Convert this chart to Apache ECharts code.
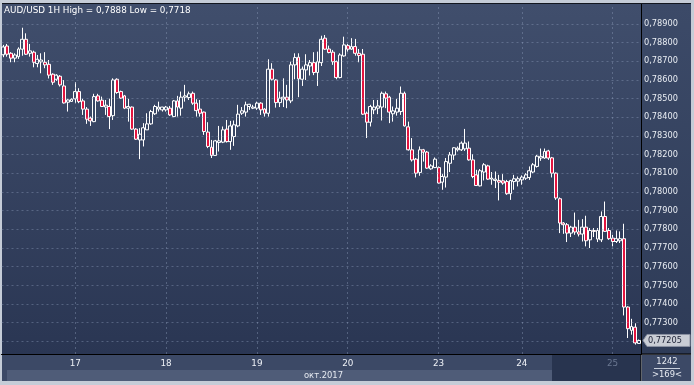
<!DOCTYPE html>
<html><head><meta charset="utf-8">
<script src="https://cdn.jsdelivr.net/npm/echarts@6/dist/echarts.min.js"></script>
<style>html,body{margin:0;padding:0;background:#c5ccd7;overflow:hidden}#c{width:694px;height:385px}</style>
</head><body><div id="c"></div>
<script>
// Trading sessions: [day of Oct 2017, first hour, last hour]
const sessions = [['16',5,23],['17',0,23],['18',0,23],['19',0,23],['20',0,23],['23',2,23],['24',0,23],['25',0,7]];

const opens = [
0.78735,0.78782,0.78743,0.78717,0.78725,0.78765,0.78818,0.78743,0.78749,0.78688,
0.78697,0.78695,0.78684,0.78631,0.78604,0.78620,0.78568,0.78481,0.78485,0.78499,
0.78538,0.78488,0.78444,0.78396,0.78377,0.78515,0.78492,0.78455,0.78458,0.78409,
0.78604,0.78538,0.78515,0.78449,0.78455,0.78337,0.78279,0.78279,0.78333,0.78365,
0.78419,0.78444,0.78440,0.78440,0.78449,0.78404,0.78488,0.78449,0.78508,0.78506,
0.78529,0.78476,0.78444,0.78428,0.78321,0.78240,0.78196,0.78265,0.78267,0.78337,
0.78270,0.78297,0.78354,0.78422,0.78428,0.78458,0.78449,0.78449,0.78476,0.78444,
0.78422,0.78658,0.78600,0.78479,0.78499,0.78508,0.78488,0.78681,0.78722,0.78604,
0.78654,0.78675,0.78693,0.78640,0.78693,0.78824,0.78766,0.78749,0.78698,0.78613,
0.78729,0.78784,0.78765,0.78779,0.78743,0.78738,0.78422,0.78374,0.78440,0.78449,
0.78455,0.78526,0.78508,0.78419,0.78428,0.78431,0.78529,0.78349,0.78226,0.78176,
0.78105,0.78226,0.78214,0.78124,0.78131,0.78131,0.78053,0.78080,0.78154,0.78198,
0.78226,0.78226,0.78231,0.78235,0.78172,0.78092,0.78033,0.78107,0.78140,0.78069,
0.78062,0.78062,0.78060,0.78056,0.77991,0.78056,0.78058,0.78065,0.78074,0.78078,
0.78107,0.78137,0.78182,0.78182,0.78220,0.78183,0.78101,0.77964,0.77834,0.77825,
0.77780,0.77812,0.77786,0.77775,0.77812,0.77744,0.77794,0.77748,0.77744,0.77869,
0.77794,0.77753,0.77735,0.77739,0.77750,0.77384,0.77259,0.77276,0.77189];

const closes = [
0.78777,0.78738,0.78717,0.78734,0.78766,0.78818,0.78738,0.78756,0.78695,0.78711,
0.78707,0.78681,0.78626,0.78588,0.78626,0.78574,0.78477,0.78493,0.78497,0.78538,
0.78484,0.78444,0.78390,0.78381,0.78511,0.78488,0.78458,0.78465,0.78404,0.78600,
0.78533,0.78503,0.78449,0.78458,0.78337,0.78283,0.78310,0.78344,0.78365,0.78431,
0.78458,0.78455,0.78455,0.78455,0.78413,0.78488,0.78455,0.78508,0.78515,0.78526,
0.78476,0.78436,0.78422,0.78324,0.78244,0.78196,0.78274,0.78274,0.78333,0.78270,
0.78354,0.78360,0.78417,0.78435,0.78467,0.78470,0.78455,0.78476,0.78440,0.78422,
0.78658,0.78604,0.78479,0.78503,0.78508,0.78493,0.78681,0.78720,0.78606,0.78658,
0.78681,0.78693,0.78640,0.78698,0.78818,0.78765,0.78747,0.78698,0.78613,0.78734,
0.78788,0.78765,0.78779,0.78743,0.78731,0.78417,0.78374,0.78458,0.78455,0.78461,
0.78529,0.78503,0.78428,0.78435,0.78449,0.78529,0.78354,0.78226,0.78172,0.78101,
0.78226,0.78214,0.78128,0.78140,0.78176,0.78048,0.78083,0.78163,0.78199,0.78237,
0.78235,0.78262,0.78262,0.78172,0.78083,0.78035,0.78114,0.78146,0.78069,0.78075,
0.78069,0.78053,0.78048,0.77991,0.78062,0.78071,0.78071,0.78080,0.78092,0.78114,
0.78146,0.78192,0.78191,0.78217,0.78182,0.78101,0.77968,0.77834,0.77825,0.77780,
0.77812,0.77786,0.77775,0.77812,0.77739,0.77794,0.77789,0.77794,0.77869,0.77789,
0.77750,0.77735,0.77750,0.77750,0.77384,0.77268,0.77280,0.77192,0.77205];

const lows = [
0.78722,0.78725,0.78695,0.78695,0.78713,0.78730,0.78734,0.78725,0.78668,0.78668,
0.78636,0.78663,0.78608,0.78574,0.78595,0.78565,0.78474,0.78431,0.78484,0.78476,
0.78476,0.78413,0.78365,0.78354,0.78374,0.78484,0.78455,0.78413,0.78337,0.78386,
0.78526,0.78499,0.78444,0.78377,0.78333,0.78279,0.78176,0.78244,0.78333,0.78360,
0.78413,0.78431,0.78431,0.78431,0.78408,0.78401,0.78404,0.78409,0.78484,0.78493,
0.78467,0.78404,0.78404,0.78306,0.78235,0.78182,0.78196,0.78217,0.78262,0.78265,
0.78226,0.78247,0.78347,0.78413,0.78404,0.78440,0.78444,0.78440,0.78413,0.78404,
0.78404,0.78597,0.78452,0.78455,0.78455,0.78449,0.78476,0.78604,0.78508,0.78568,
0.78600,0.78624,0.78626,0.78568,0.78675,0.78761,0.78743,0.78681,0.78604,0.78609,
0.78725,0.78752,0.78761,0.78730,0.78695,0.78413,0.78289,0.78351,0.78417,0.78417,
0.78383,0.78449,0.78369,0.78377,0.78409,0.78413,0.78351,0.78222,0.78163,0.78078,
0.78087,0.78163,0.78124,0.78119,0.78128,0.78043,0.78012,0.78024,0.78107,0.78172,
0.78217,0.78220,0.78220,0.78168,0.78074,0.78032,0.78030,0.78062,0.78065,0.78039,
0.78021,0.77955,0.78039,0.77985,0.77958,0.78012,0.78030,0.78039,0.78065,0.78065,
0.78101,0.78131,0.78167,0.78178,0.78172,0.78078,0.77958,0.77780,0.77776,0.77732,
0.77759,0.77771,0.77762,0.77735,0.77709,0.77700,0.77759,0.77732,0.77732,0.77786,
0.77744,0.77709,0.77727,0.77727,0.77339,0.77218,0.77236,0.77183,0.77187];

const highs = [
0.78788,0.78793,0.78749,0.78743,0.78775,0.78880,0.78850,0.78793,0.78757,0.78734,
0.78743,0.78749,0.78707,0.78636,0.78631,0.78626,0.78600,0.78497,0.78502,0.78588,
0.78556,0.78499,0.78455,0.78404,0.78526,0.78526,0.78511,0.78493,0.78500,0.78609,
0.78609,0.78543,0.78520,0.78499,0.78458,0.78342,0.78342,0.78369,0.78422,0.78440,
0.78467,0.78484,0.78456,0.78461,0.78461,0.78493,0.78515,0.78538,0.78574,0.78538,
0.78538,0.78497,0.78493,0.78431,0.78374,0.78279,0.78279,0.78354,0.78351,0.78386,
0.78381,0.78383,0.78467,0.78455,0.78484,0.78472,0.78467,0.78484,0.78481,0.78449,
0.78711,0.78690,0.78604,0.78538,0.78609,0.78574,0.78698,0.78743,0.78743,0.78672,
0.78738,0.78707,0.78749,0.78752,0.78837,0.78841,0.78784,0.78761,0.78704,0.78743,
0.78832,0.78793,0.78824,0.78820,0.78766,0.78766,0.78431,0.78467,0.78493,0.78493,
0.78538,0.78538,0.78515,0.78458,0.78499,0.78565,0.78538,0.78377,0.78289,0.78182,
0.78244,0.78231,0.78220,0.78149,0.78185,0.78137,0.78096,0.78182,0.78214,0.78240,
0.78244,0.78271,0.78338,0.78271,0.78203,0.78119,0.78123,0.78155,0.78146,0.78107,
0.78110,0.78092,0.78096,0.78065,0.78065,0.78092,0.78083,0.78089,0.78101,0.78137,
0.78155,0.78199,0.78233,0.78233,0.78226,0.78188,0.78105,0.77971,0.77839,0.77834,
0.77819,0.77890,0.77851,0.77855,0.77873,0.77807,0.77807,0.77807,0.77896,0.77949,
0.77807,0.77771,0.77794,0.77789,0.77830,0.77388,0.77321,0.77297,0.77210];

const yGridTicks = [0.772,0.773,0.774,0.775,0.776,0.777,0.778,0.779,0.780,0.781,0.782,0.783,0.784,0.785,0.786,0.787,0.788,0.789];
const yLabelTicks = [0.773,0.774,0.775,0.776,0.777,0.778,0.779,0.780,0.781,0.782,0.783,0.784,0.785,0.786,0.787,0.788,0.789];
const titleText = 'AUD/USD 1H High = 0,7888 Low = 0,7718';
const monthText = 'окт.2017';
const infoTop = '1242';
const infoBottom = '>169<';
const dimmedDay = '25';

const categories = [];
sessions.forEach(([d, h0, h1]) => {
  for (let h = h0; h <= h1; h++) categories.push(d + ' ' + String(h).padStart(2, '0') + ':00');
});
const dayOf = c => c.split(' ')[0];
const dayStarts = categories.filter((c, i) => i > 0 && dayOf(c) !== dayOf(categories[i - 1]));
const candleData = opens.map((o, i) => [o, closes[i], lows[i], highs[i]]);
const fmt = v => v.toFixed(5).replace('.', ',');

const FONT = 'DejaVu Sans';
const chart = echarts.init(document.getElementById('c'), null, {renderer: 'canvas'});

const bgEls = [
  {id:'plotBg', type:'rect', z:-10, silent:true, shape:{x:2,y:4,width:639,height:350},
   style:{fill:new echarts.graphic.LinearGradient(0,0,0,1,[{offset:0,color:'#404e6c'},{offset:1,color:'#2a3653'}])}},
  {id:'rightBg', type:'rect', z:-10, silent:true, shape:{x:642,y:4,width:49,height:350},
   style:{fill:new echarts.graphic.LinearGradient(0,0,0,1,[{offset:0,color:'#3c4a68'},{offset:1,color:'#2e3b57'}])}},
  {id:'row1', type:'rect', z:-10, silent:true, shape:{x:2,y:355,width:639,height:26}, style:{fill:'#3c4966'}},
  {id:'row2', type:'rect', z:-10, silent:true, shape:{x:7,y:370,width:545,height:11}, style:{fill:'#4f5c78'}},
  {id:'dark', type:'rect', z:-10, silent:true, shape:{x:552,y:355,width:89,height:26}, style:{fill:'#28344f'}},
  {id:'brBox', type:'rect', z:-10, silent:true, shape:{x:642,y:355,width:49,height:26}, style:{fill:'#3c4966'}},
  {id:'topLine', type:'rect', z:5, silent:true, shape:{x:2,y:3,width:689,height:1}, style:{fill:'#12161f'}},
  {id:'hLine', type:'rect', z:5, silent:true, shape:{x:641,y:353.5,width:50,height:1.2}, style:{fill:'#000'}},
  {id:'vLine', type:'rect', z:5, silent:true, shape:{x:640.5,y:354,width:1,height:27}, style:{fill:'#000'}},
  {id:'month', type:'text', z:5, silent:true, x:343, y:376,
   style:{text:monthText, fill:'#e6eaf1', fontSize:8.4, fontFamily:FONT, textAlign:'right', textVerticalAlign:'middle'}},
  {id:'info1', type:'text', z:5, silent:true, x:667, y:362,
   style:{text:infoTop, fill:'#e6eaf1', fontSize:8.4, fontFamily:FONT, textAlign:'center', textVerticalAlign:'middle'}},
  {id:'infoLine', type:'rect', z:5, silent:true, shape:{x:654,y:368,width:26,height:1}, style:{fill:'#c9d0dc'}},
  {id:'info2', type:'text', z:5, silent:true, x:667, y:375,
   style:{text:infoBottom, fill:'#e6eaf1', fontSize:8.4, fontFamily:FONT, textAlign:'center', textVerticalAlign:'middle'}}
];

const option = {
  animation: false,
  backgroundColor: '#c5ccd7',
  title: {
    text: titleText, left: 4, top: 6, padding: 0,
    textStyle: {color:'#ffffff', fontSize:8.8, fontFamily:FONT, fontWeight:'normal'}
  },
  grid: {left:1.5, top:4, width:639.5, height:350, containLabel:false},
  xAxis: {
    type:'category', data:categories, boundaryGap:true,
    axisLine:{show:true, lineStyle:{color:'#000000', width:1.2}},
    axisTick:{show:false}, splitLine:{show:false},
    axisLabel:{
      interval:(i, v) => dayStarts.includes(v),
      formatter: v => dayOf(v),
      color: v => dayOf(v) === dimmedDay ? '#6a7791' : '#eef1f6',
      fontSize:8.8, fontFamily:FONT, margin:5
    }
  },
  yAxis: {
    type:'value', position:'right', min:0.771325, max:0.79007,
    axisLine:{show:true, lineStyle:{color:'#000000', width:1}},
    axisTick:{show:false}, splitLine:{show:false},
    axisLabel:{customValues:yLabelTicks, formatter:fmt, color:'#e9edf3', fontSize:8.2, fontFamily:FONT, margin:3}
  },
  series: [
    {
      type:'line', data:[], silent:true, z:1, animation:false,
      markLine:{
        symbol:'none', silent:true, animation:false, precision:6, label:{show:false},
        lineStyle:{type:[2,3], color:'rgba(150,165,195,0.38)', width:1},
        data:[...yGridTicks.map(v => ({yAxis:v})), ...dayStarts.map(c => ({xAxis:c}))]
      }
    },
    {
      type:'candlestick', data:candleData, barWidth:3.4, z:3,
      itemStyle:{color:'rgba(0,0,0,0)', color0:'#e3143f', borderColor:'#ffffff', borderColor0:'#ffffff', borderWidth:1}
    }
  ],
  graphic: {elements: bgEls}
};
chart.setOption(option);

const lastPrice = closes[closes.length - 1];
const ty = chart.convertToPixel({yAxisIndex:0}, lastPrice);
chart.setOption({graphic:{elements:[
  {id:'tag', type:'polygon', z:6, silent:true,
   shape:{points:[[643,ty],[647,ty-6],[690,ty-6],[690,ty+6],[647,ty+6]]},
   style:{fill:'#c9cdd5', stroke:'#8a91a1', lineWidth:1}},
  {id:'tagText', type:'text', z:7, silent:true, x:648, y:ty,
   style:{text:fmt(lastPrice), fill:'#1b2035', fontSize:8.2, fontFamily:FONT, textAlign:'left', textVerticalAlign:'middle'}}
]}});
</script></body></html>
